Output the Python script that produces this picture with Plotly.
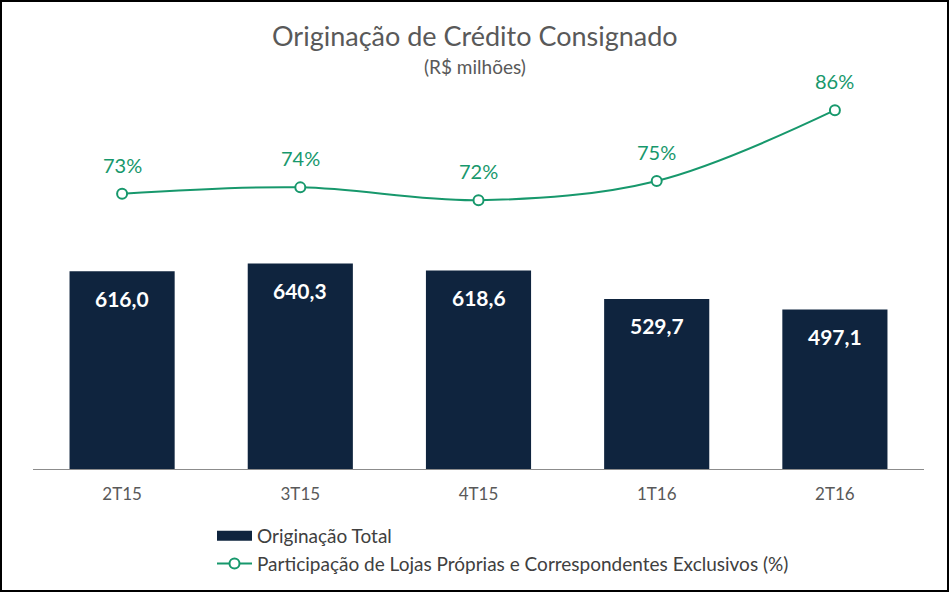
import plotly.graph_objects as go

categories = ["2T15", "3T15", "4T15", "1T16", "2T16"]
originacao_total = [616.0, 640.3, 618.6, 529.7, 497.1]
participacao_pct = [73, 74, 72, 75, 86]

bar_labels = [f"{v:,.1f}".replace(".", ",") for v in originacao_total]
pct_labels = [f"{v}%" for v in participacao_pct]

NAVY = "#0F243E"
GREEN = "#17986C"
GRAY = "#595959"
FONT = "Lato"

W, H = 950, 593
ml, mr, mt, mb = 33, 26, 75, 124
pw, ph = W - ml - mr, H - mt - mb


def px_x(p):
    return (p - ml) / pw


def px_y(p):
    return (H - mb - p) / ph


fig = go.Figure()
fig.add_trace(go.Bar(
    x=categories, y=originacao_total, name="Originação Total",
    marker=dict(color=NAVY, line=dict(width=0)), width=0.59,
    hoverinfo="skip", showlegend=False,
))
# legend entry for the bars (wide swatch like the original)
fig.add_trace(go.Scatter(
    x=[None], y=[None], name="Originação Total", mode="lines",
    line=dict(color=NAVY, width=12), hoverinfo="skip",
))
fig.add_trace(go.Scatter(
    x=categories, y=participacao_pct, yaxis="y2",
    name="Participação de Lojas Próprias e Correspondentes Exclusivos (%)",
    mode="lines+markers",
    line=dict(color=GREEN, width=2, shape="spline", smoothing=1.0),
    marker=dict(symbol="circle", size=10, color="white", line=dict(color=GREEN, width=2)),
    hoverinfo="skip",
))

annotations = []
for c, v, t in zip(categories, originacao_total, bar_labels):
    annotations.append(dict(x=c, y=v, xref="x", yref="y", text=f"<b>{t}</b>",
                            showarrow=False, yshift=-27, yanchor="middle",
                            font=dict(family=FONT, size=21, color="white")))
for c, v, t in zip(categories, participacao_pct, pct_labels):
    annotations.append(dict(x=c, y=v, xref="x", yref="y2", text=t,
                            showarrow=False, yshift=29, yanchor="middle",
                            font=dict(family=FONT, size=20, color=GREEN)))

annotations.append(dict(x=px_x(W / 2), y=px_y(36),
                        xref="paper", yref="paper", text="Originação de Crédito Consignado",
                        showarrow=False, yanchor="middle",
                        font=dict(family=FONT, size=27, color=GRAY)))
annotations.append(dict(x=px_x(W / 2), y=px_y(66),
                        xref="paper", yref="paper", text="(R$ milhões)",
                        showarrow=False, yanchor="middle",
                        font=dict(family=FONT, size=19, color=GRAY)))

fig.update_layout(
    width=W, height=H,
    margin=dict(l=ml, r=mr, t=mt, b=mb, autoexpand=False),
    paper_bgcolor="white", plot_bgcolor="white",
    font=dict(family=FONT, color=GRAY),
    xaxis=dict(showline=True, linecolor="#8C8C8C", linewidth=1, ticks="",
               ticklabelstandoff=10,
               tickfont=dict(family=FONT, size=17, color=GRAY), showgrid=False),
    yaxis=dict(range=[0, ph / 0.321], visible=False, showgrid=False),
    yaxis2=dict(range=[30.2, 30.2 + ph / 6.43], overlaying="y", side="right",
                visible=False, showgrid=False),
    showlegend=True,
    legend=dict(x=px_x(212), y=px_y(517), xanchor="left", yanchor="top",
                orientation="v", font=dict(family=FONT, size=19, color="#404040"),
                bgcolor="rgba(0,0,0,0)", tracegroupgap=0, itemwidth=35),
    annotations=annotations,
    shapes=[dict(type="rect", xref="paper", yref="paper",
                 x0=px_x(1), x1=px_x(948), y0=px_y(591), y1=px_y(1),
                 line=dict(color="black", width=2), fillcolor="rgba(0,0,0,0)")],
)

fig.write_html("out.html", config={"displayModeBar": False},
               post_script="document.body.style.margin='0';")
